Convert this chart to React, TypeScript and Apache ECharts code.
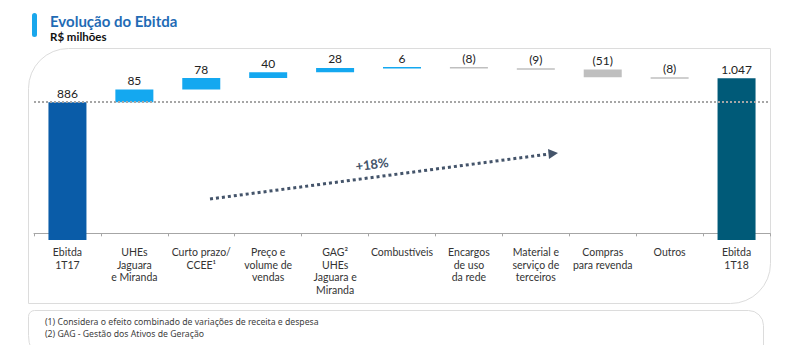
import React, { useEffect, useRef } from "react";
import * as echarts from "echarts";

const categories = [
  "Ebitda\n1T17",
  "UHEs\nJaguara\ne Miranda",
  "Curto prazo/\nCCEE¹",
  "Preço e\nvolume de\nvendas",
  "GAG²\nUHEs\nJaguara e\nMiranda",
  "Combustíveis",
  "Encargos\nde uso\nda rede",
  "Material e\nserviço de\nterceiros",
  "Compras\npara revenda",
  "Outros",
  "Ebitda\n1T18",
];
const values = [886, 85, 78, 40, 28, 6, -8, -9, -51, -8, 1047];
const valueLabels = ["886", "85", "78", "40", "28", "6", "(8)", "(9)", "(51)", "(8)", "1.047"];
const growthLabel = "+18%";
const footnotes = [
  "(1) Considera o efeito combinado de variações de receita e despesa",
  "(2) GAG - Gestão dos Ativos de Geração",
];

const AXIS_MIN = -45;
const AXIS_MAX = 1252;

export default function App() {
  const ref = useRef<HTMLDivElement>(null);
  useEffect(() => {
    const chart = echarts.init(ref.current!, null, { renderer: "svg" });
    const rows: any[] = [];
    let cum = 0;
    values.forEach((v, i) => {
      if (i === 0 || i === values.length - 1) {
        rows.push([i, AXIS_MIN, v, i === 0 ? 0 : 3]);
        cum = v;
      } else {
        const lo = v >= 0 ? cum : cum + v;
        const hi = v >= 0 ? cum + v : cum;
        rows.push([i, lo, hi, v >= 0 ? 1 : 2]);
        cum += v;
      }
    });
    const colors = ["#0a5ca8", "#14a8f0", "#bfbfbf", "#005a78"];

    chart.setOption({
      animation: false,
      backgroundColor: "#ffffff",
      grid: { left: 34, right: 21, top: 48, bottom: 105 },
      xAxis: {
        type: "category",
        data: categories,
        boundaryGap: true,
        axisLine: { lineStyle: { color: "#a6a6a6", width: 1 } },
        axisTick: { show: true, length: 3, lineStyle: { color: "#a6a6a6" } },
        axisLabel: {
          interval: 0,
          color: "#333333",
          fontFamily: "Lato",
          fontSize: 10.5,
          lineHeight: 12.5,
          margin: 6,
          verticalAlign: "top",
        },
      },
      yAxis: {
        type: "value",
        min: AXIS_MIN,
        max: AXIS_MAX,
        show: false,
        splitLine: { show: false },
      },
      series: [
        {
          type: "line",
          data: [],
          z: 1,
          markLine: {
            silent: true,
            symbol: "none",
            label: { show: false },
            lineStyle: { color: "#a6a6a6", type: "dotted", width: 2 },
            data: [{ yAxis: values[0] }],
          },
        },
        {
          type: "custom",
          data: rows,
          z: 3,
          renderItem: (params: any, api: any) => {
            const idx = api.value(0);
            const lo = api.coord([idx, api.value(1)]);
            const hi = api.coord([idx, api.value(2)]);
            const kind = api.value(3);
            const w = 38;
            let h = lo[1] - hi[1];
            const top = hi[1];
            if (h < 1.5) h = 1.5;
            return {
              type: "group",
              children: [
                {
                  type: "rect",
                  shape: { x: lo[0] - w / 2, y: top, width: w, height: h },
                  style: { fill: colors[kind] },
                },
                {
                  type: "text",
                  style: {
                    text: valueLabels[params.dataIndex],
                    x: lo[0],
                    y: top - 3,
                    textAlign: "center",
                    textVerticalAlign: "bottom",
                    fill: "#222222",
                    font: "12px Lato",
                  },
                },
              ],
            };
          },
        },
      ],
      graphic: [
        {
          type: "rect",
          shape: { x: 28.5, y: 48.5, width: 742, height: 255, r: [40, 0, 40, 0] },
          style: { fill: "none", stroke: "#dcdcdc", lineWidth: 1 },
          z: -1,
        },
        {
          type: "rect",
          shape: { x: 28.5, y: 310.5, width: 735, height: 60, r: [6, 15, 0, 35] },
          style: { fill: "none", stroke: "#dcdcdc", lineWidth: 1 },
          z: -1,
        },
        {
          type: "rect",
          shape: { x: 32, y: 13, width: 5, height: 24, r: 2.5 },
          style: { fill: "#1aa7ec" },
        },
        {
          type: "text",
          x: 50,
          y: 21,
          style: {
            text: "Evolução do Ebitda",
            fill: "#1f6bb5",
            font: "bold 15px Lato",
            textVerticalAlign: "middle",
          },
        },
        {
          type: "text",
          x: 50,
          y: 36,
          style: {
            text: "R$ milhões",
            fill: "#111111",
            font: "bold 11.5px Lato",
            textVerticalAlign: "middle",
          },
        },
        {
          type: "line",
          shape: { x1: 210, y1: 199, x2: 549, y2: 154 },
          style: { stroke: "#44546a", lineWidth: 3, lineDash: [3, 3] },
        },
        {
          type: "polygon",
          shape: { points: [[548, 149], [558, 153], [549, 159]] },
          style: { fill: "#44546a" },
        },
        {
          type: "text",
          x: 372,
          y: 164,
          rotation: 0.13,
          style: {
            text: growthLabel,
            fill: "#44546a",
            font: "bold 13px Lato",
            textAlign: "center",
            textVerticalAlign: "middle",
          },
        },
        {
          type: "text",
          x: 45,
          y: 322,
          style: {
            text: footnotes[0],
            fill: "#404040",
            font: "8.7px 'Noto Sans'",
            textVerticalAlign: "middle",
          },
        },
        {
          type: "text",
          x: 45,
          y: 334,
          style: {
            text: footnotes[1],
            fill: "#404040",
            font: "8.7px 'Noto Sans'",
            textVerticalAlign: "middle",
          },
        },
      ],
    });
    return () => chart.dispose();
  }, []);
  return <div ref={ref} style={{ width: 791, height: 345, position: "absolute", left: 0, top: 0 }} />;
}
